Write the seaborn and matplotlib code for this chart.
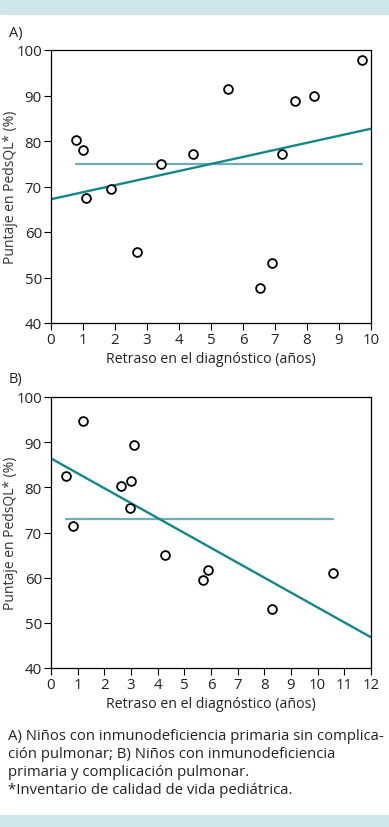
import numpy as np
import pandas as pd
import matplotlib
matplotlib.use('Agg')
import matplotlib.pyplot as plt
import seaborn as sns

# ==================== Data ====================
# A) sin complicacion pulmonar
retraso_a = [0.78, 0.99, 1.10, 1.89, 2.69, 3.45, 4.43, 5.54, 6.54, 6.91, 7.22, 7.63, 8.21, 9.72]
puntaje_a = [80.2, 78.0, 67.4, 69.5, 55.5, 74.9, 77.2, 91.4, 47.8, 53.2, 77.2, 88.7, 90.0, 97.9]
media_a = 74.9
recta_a = (67.2, 1.55)  # intercept, slope

# B) con complicacion pulmonar
retraso_b = [0.58, 0.81, 1.19, 2.63, 3.00, 3.12, 2.97, 4.27, 5.69, 5.89, 8.30, 10.59]
puntaje_b = [82.6, 71.5, 94.6, 80.3, 81.5, 89.3, 75.5, 65.1, 59.4, 61.6, 53.0, 61.0]
media_b = 72.9
recta_b = (86.4, -3.30)

xmax_a = 10
xmax_b = 12
ylabel = 'Puntaje en PedsQL* (%)'
xlabel = 'Retraso en el diagnóstico (años)'
caption = ['A) Niños con inmunodeficiencia primaria sin complica-',
           'ción pulmonar; B) Niños con inmunodeficiencia',
           'primaria y complicación pulmonar.',
           '*Inventario de calidad de vida pediátrica.']

sns.set_style('ticks')
plt.rcParams['font.family'] = ['Open Sans', 'DejaVu Sans']
plt.rcParams['font.size'] = 10

color_fit = '#14868c'
color_mean = '#72adb3'
band = '#cfe6ea'

fig = plt.figure(figsize=(3.89, 8.28), dpi=100)

# decorative bands top and bottom
fig.patches.append(plt.Rectangle((0, 1 - 15 / 828), 1, 14 / 828, transform=fig.transFigure,
                                 color=band, zorder=0))
fig.patches.append(plt.Rectangle((0, 0), 1, 12 / 828, transform=fig.transFigure,
                                 color=band, zorder=0))

ax_a = fig.add_axes([51 / 389, 504 / 828, 320 / 389, 273 / 828])
ax_b = fig.add_axes([51 / 389, 159 / 828, 320 / 389, 271 / 828])


def draw_panel(ax, x, y, media, recta, xmax):
    df = pd.DataFrame({'x': x, 'y': y})
    # mean line from min to max delay
    sns.lineplot(x=[min(x), max(x)], y=[media, media], color=color_mean, lw=1.6, ax=ax)
    # regression line across whole axis
    xs = np.array([0, xmax])
    sns.lineplot(x=xs, y=recta[0] + recta[1] * xs, color=color_fit, lw=1.7, ax=ax)
    sns.scatterplot(data=df, x='x', y='y', marker='o', s=40, facecolor='white',
                    edgecolor='black', linewidth=1.3, ax=ax, zorder=5)
    ax.set_xlim(0, xmax)
    ax.set_ylim(40, 100)
    ax.set_xticks(range(0, xmax + 1))
    ax.set_yticks(range(40, 101, 10))
    ax.tick_params(direction='out', length=5, width=0.8, labelsize=10.8, pad=1.5,
                   colors='black', labelcolor='#222222')
    ax.set_xlabel(xlabel, fontsize=10.2, labelpad=3, color='#222222')
    ax.set_ylabel(ylabel, fontsize=10, color='#333333')
    ax.yaxis.set_label_coords(-0.103, 0.5)
    for s in ax.spines.values():
        s.set_visible(True)
        s.set_linewidth(0.9)
        s.set_color('black')


draw_panel(ax_a, retraso_a, puntaje_a, media_a, recta_a, xmax_a)
draw_panel(ax_b, retraso_b, puntaje_b, media_b, recta_b, xmax_b)

fig.text(9 / 389, 1 - 33 / 828, 'A)', fontsize=10.5, va='center', ha='left', color='#222222')
fig.text(9 / 389, 1 - 380 / 828, 'B)', fontsize=10.5, va='center', ha='left', color='#222222')

for i, line in enumerate(caption):
    fig.text(8 / 389, 1 - (737 + 18 * i) / 828, line, fontsize=10.7, va='center', ha='left',
             color='#222222')

fig.savefig('out.png', dpi=100)
